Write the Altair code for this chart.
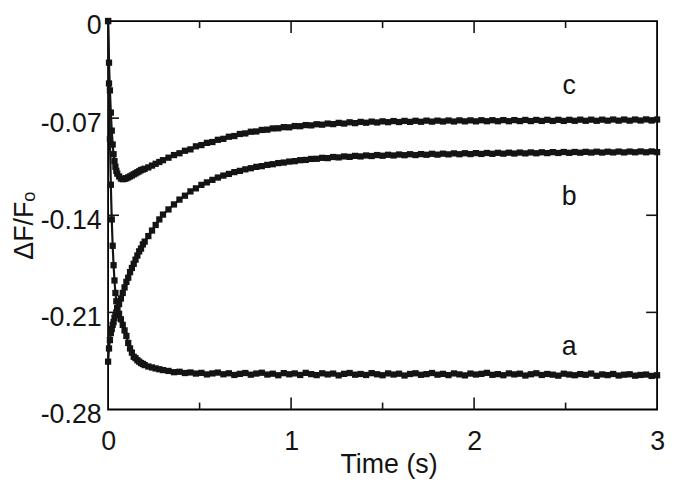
import altair as alt
import pandas as pd

FONT = "Liberation Sans"
INK = "#141414"

# ---- sample times (s) ----
T_EARLY = [0, 0.005, 0.01, 0.015, 0.02, 0.025, 0.03, 0.035, 0.04, 0.045,
           0.05, 0.06, 0.07, 0.08, 0.09, 0.10, 0.11, 0.12, 0.13, 0.14,
           0.15, 0.16, 0.17, 0.18, 0.19, 0.20, 0.22, 0.24, 0.26, 0.28,
           0.30]
T_LATE = [0.33, 0.36, 0.39, 0.42, 0.45, 0.48, 0.51, 0.54, 0.57, 0.60,
          0.63, 0.66, 0.69, 0.72, 0.75, 0.78, 0.81, 0.84, 0.87, 0.90,
          0.93, 0.96, 0.99, 1.02, 1.05, 1.08, 1.11, 1.14, 1.17, 1.20,
          1.23, 1.26, 1.29, 1.32, 1.35, 1.38, 1.41, 1.44, 1.47, 1.50,
          1.53, 1.56, 1.59, 1.62, 1.65, 1.68, 1.71, 1.74, 1.77, 1.80,
          1.83, 1.86, 1.89, 1.92, 1.95, 1.98, 2.01, 2.04, 2.07, 2.10,
          2.13, 2.16, 2.19, 2.22, 2.25, 2.28, 2.31, 2.34, 2.37, 2.40,
          2.43, 2.46, 2.49, 2.52, 2.55, 2.58, 2.61, 2.64, 2.67, 2.70,
          2.73, 2.76, 2.79, 2.82, 2.85, 2.88, 2.91, 2.94, 2.97, 3.00]

# ---- curve a ----
A_EARLY = [0, -0.045, -0.085, -0.118, -0.143, -0.162, -0.176, -0.187, -0.196, -0.202,
           -0.207, -0.211, -0.215, -0.219, -0.223, -0.227, -0.232, -0.236, -0.239, -0.242,
           -0.243, -0.2445, -0.2455, -0.2465, -0.2472, -0.248, -0.249, -0.2497, -0.2504, -0.251,
           -0.2516]
A_LATE = [-0.2522, -0.2531, -0.2528, -0.2537, -0.2533, -0.2541, -0.2536, -0.2547, -0.2540, -0.2534,
          -0.2546, -0.2539, -0.2551, -0.2543, -0.2537, -0.2549, -0.2541, -0.2535, -0.2548, -0.2542,
          -0.2553, -0.2538, -0.2546, -0.2540, -0.2551, -0.2536, -0.2545, -0.2552, -0.2539, -0.2547,
          -0.2541, -0.2554, -0.2543, -0.2537, -0.2549, -0.2544, -0.2551, -0.2538, -0.2546, -0.2553,
          -0.2540, -0.2548, -0.2542, -0.2555, -0.2544, -0.2539, -0.2550, -0.2545, -0.2537, -0.2549,
          -0.2543, -0.2552, -0.2540, -0.2547, -0.2554, -0.2541, -0.2548, -0.2543, -0.2536, -0.2550,
          -0.2545, -0.2553, -0.2540, -0.2547, -0.2542, -0.2555, -0.2546, -0.2539, -0.2551, -0.2544,
          -0.2549, -0.2556, -0.2542, -0.2548, -0.2553, -0.2545, -0.2550, -0.2541, -0.2557, -0.2547,
          -0.2552, -0.2544, -0.2555, -0.2549, -0.2546, -0.2556, -0.2551, -0.2548, -0.2558, -0.2553]

# ---- curve b ----
B_EARLY = [-0.2455, -0.236, -0.230, -0.225, -0.222, -0.219, -0.217, -0.214, -0.212, -0.210,
           -0.207, -0.204, -0.200, -0.196, -0.192, -0.188, -0.185, -0.181, -0.178, -0.175,
           -0.172, -0.169, -0.166, -0.164, -0.161, -0.159, -0.155, -0.151, -0.147, -0.143,
           -0.1395]
B_LATE = [-0.1358, -0.1322, -0.1287, -0.1259, -0.1228, -0.1206, -0.1181, -0.1163, -0.1145, -0.1128,
          -0.1114, -0.1102, -0.1089, -0.1080, -0.1069, -0.1061, -0.1051, -0.1046, -0.1037, -0.1032,
          -0.1024, -0.1020, -0.1013, -0.1010, -0.1003, -0.1001, -0.0994, -0.0993, -0.0986, -0.0988,
          -0.0980, -0.0983, -0.0976, -0.0979, -0.0972, -0.0976, -0.0969, -0.0973, -0.0966, -0.0971,
          -0.0964, -0.0969, -0.0962, -0.0967, -0.0960, -0.0966, -0.0959, -0.0964, -0.0957, -0.0963,
          -0.0956, -0.0961, -0.0954, -0.0960, -0.0953, -0.0959, -0.0952, -0.0958, -0.0951, -0.0957,
          -0.0950, -0.0956, -0.0949, -0.0955, -0.0948, -0.0954, -0.0947, -0.0953, -0.0946, -0.0952,
          -0.0945, -0.0951, -0.0944, -0.0950, -0.0944, -0.0949, -0.0943, -0.0948, -0.0942, -0.0948,
          -0.0942, -0.0947, -0.0941, -0.0947, -0.0941, -0.0946, -0.0940, -0.0946, -0.0940, -0.0945]

# ---- curve c ----
C_EARLY = [0, -0.030, -0.050, -0.066, -0.079, -0.089, -0.096, -0.101, -0.105, -0.108,
           -0.110, -0.112, -0.1135, -0.114, -0.1138, -0.1133, -0.1127, -0.112, -0.1113, -0.1105,
           -0.1098, -0.109, -0.1083, -0.1075, -0.1070, -0.1065, -0.1055, -0.1042, -0.1029, -0.1016,
           -0.1003]
C_LATE = [-0.0985, -0.0966, -0.0953, -0.0935, -0.0925, -0.0903, -0.0894, -0.0878, -0.0872, -0.0856,
          -0.0849, -0.0834, -0.0829, -0.0814, -0.0810, -0.0798, -0.0796, -0.0785, -0.0783, -0.0774,
          -0.0773, -0.0765, -0.0766, -0.0757, -0.0758, -0.0750, -0.0752, -0.0744, -0.0747, -0.0739,
          -0.0743, -0.0734, -0.0739, -0.0730, -0.0736, -0.0727, -0.0733, -0.0725, -0.0731, -0.0723,
          -0.0729, -0.0721, -0.0728, -0.0720, -0.0727, -0.0719, -0.0726, -0.0718, -0.0725, -0.0718,
          -0.0724, -0.0717, -0.0724, -0.0716, -0.0723, -0.0716, -0.0723, -0.0715, -0.0722, -0.0715,
          -0.0722, -0.0714, -0.0722, -0.0714, -0.0721, -0.0713, -0.0721, -0.0713, -0.0720, -0.0712,
          -0.0720, -0.0712, -0.0720, -0.0712, -0.0719, -0.0711, -0.0719, -0.0711, -0.0719, -0.0711,
          -0.0718, -0.0710, -0.0718, -0.0710, -0.0718, -0.0710, -0.0717, -0.0709, -0.0717, -0.0710]

# ---- annotations and ticks ----
LABELS = ["a", "b", "c"]
LABEL_T = [2.52, 2.52, 2.52]
LABEL_V = [-0.2405, -0.1323, -0.0525]
X_TICK_LABELS = [0, 1, 2, 3]
X_MAJOR = [1, 2]
X_MINOR = [0.5, 1.5, 2.5]
Y_TICK_LABELS = [0, -0.07, -0.14, -0.21, -0.28]
Y_MAJOR = [-0.07, -0.14, -0.21]

T = T_EARLY + T_LATE
series = {"a": A_EARLY + A_LATE, "b": B_EARLY + B_LATE, "c": C_EARLY + C_LATE}
for k, v in series.items():
    assert len(v) == len(T), (k, len(v), len(T))

rows = []
for name, vals in series.items():
    for t, v in zip(T, vals):
        rows.append({"t": t, "v": v, "curve": name})
df = pd.DataFrame(rows)

W, H = 554, 392
FS = 27
xs = alt.Scale(domain=[0, 3], nice=False, zero=False)
ys = alt.Scale(domain=[-0.28, 0], nice=False, zero=False)

x_axis = alt.Axis(
    values=X_TICK_LABELS, format="d", title="Time (s)", grid=False, ticks=False,
    tickSize=0, domain=False, labelFontSize=FS, titleFontSize=FS, labelFont=FONT,
    titleFont=FONT, titleFontWeight="normal", labelColor=INK, titleColor=INK,
    labelPadding=40, labelBaseline="alphabetic", labelFlush=False, labelOverlap=False,
    titleX=283, titleY=64, titleAlign="center", titleBaseline="alphabetic")
y_axis = alt.Axis(
    values=Y_TICK_LABELS, title="ΔF/Fₒ", grid=False, ticks=False, tickSize=0,
    domain=False, labelFontSize=FS, titleFontSize=FS, labelFont=FONT, titleFont=FONT,
    titleFontWeight="normal", labelColor=INK, titleColor=INK, labelPadding=7,
    labelOffset=5, labelFlush=False, labelOverlap=False,
    labelExpr="datum.value == 0 ? '0' : '-' + format(-datum.value, '.2f')",
    titleX=-84, titleY=206, titleAlign="center", titleBaseline="middle", titleAngle=270)

X = alt.X("t:Q", scale=xs, axis=x_axis)
Y = alt.Y("v:Q", scale=ys, axis=y_axis)

base = alt.Chart(df)
lines = base.mark_line(color=INK, strokeWidth=2.2).encode(x=X, y=Y, detail="curve:N")
pts = base.mark_point(shape="square", filled=True, size=40, color=INK, opacity=1).encode(
    x=X, y=Y, detail="curve:N")

lab_df = pd.DataFrame({"t": LABEL_T, "v": LABEL_V, "txt": LABELS})
labels = alt.Chart(lab_df).mark_text(fontSize=FS, font=FONT, color=INK, align="center",
                                     baseline="alphabetic").encode(x=X, y=Y, text="txt:N")

xmaj = alt.Chart(pd.DataFrame({"t": X_MAJOR}))
xmin = alt.Chart(pd.DataFrame({"t": X_MINOR}))
ymaj = alt.Chart(pd.DataFrame({"v": Y_MAJOR}))
tick_style = dict(color=INK, strokeWidth=1.6)
ticks = [
    xmaj.mark_rule(**tick_style).encode(x=X, y=alt.value(H), y2=alt.value(H - 12)),
    xmaj.mark_rule(**tick_style).encode(x=X, y=alt.value(0), y2=alt.value(12)),
    xmin.mark_rule(**tick_style).encode(x=X, y=alt.value(H), y2=alt.value(H - 7)),
    xmin.mark_rule(**tick_style).encode(x=X, y=alt.value(0), y2=alt.value(7)),
    ymaj.mark_rule(**tick_style).encode(y=Y, x=alt.value(0), x2=alt.value(11)),
    ymaj.mark_rule(**tick_style).encode(y=Y, x=alt.value(W), x2=alt.value(W - 11)),
]

chart = alt.layer(lines, pts, labels, *ticks).properties(
    width=W, height=H,
    background="white",
    padding={"left": 101, "top": 11, "right": 10, "bottom": 70},
    autosize=alt.AutoSizeParams(type="none"),
).configure_view(stroke="black", strokeWidth=1.8)

chart.save("out.html", embed_options={"renderer": "svg", "actions": False})
